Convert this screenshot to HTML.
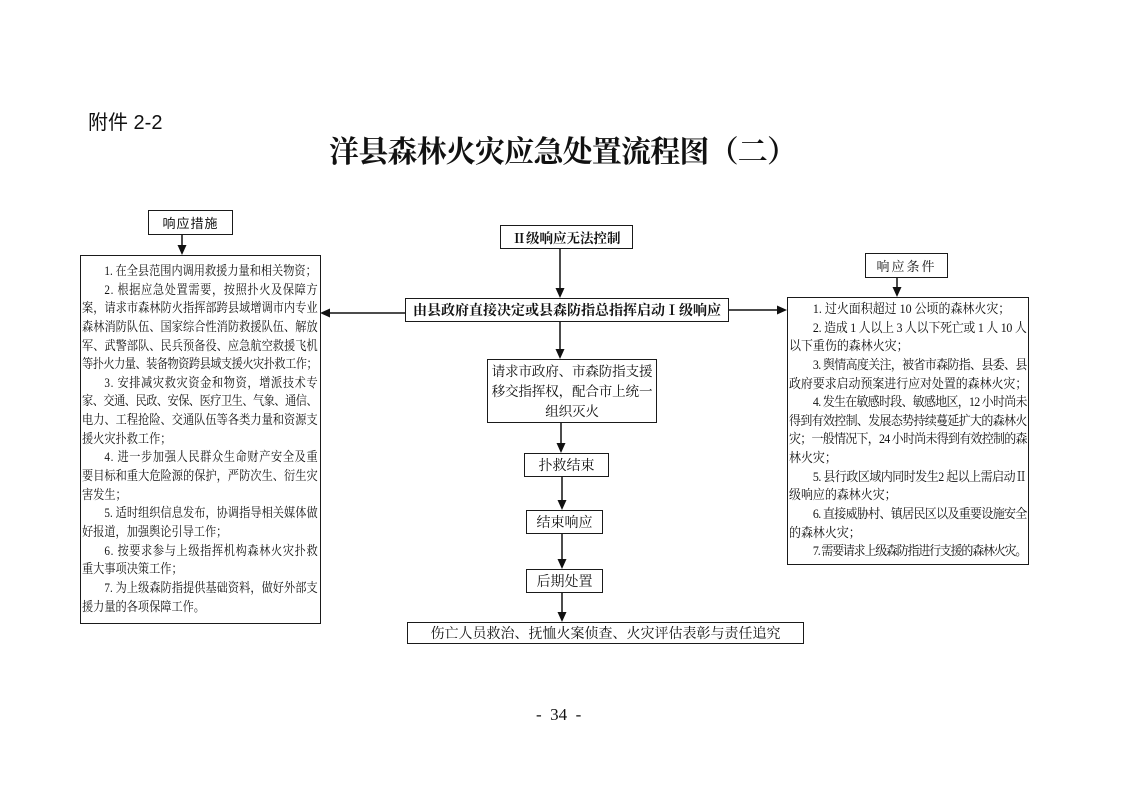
<!DOCTYPE html>
<html><head><meta charset="utf-8">
<style>
html,body{margin:0;padding:0;background:#fff;}
body{width:1122px;height:793px;position:relative;overflow:hidden;font-family:"Liberation Serif","Noto Serif CJK SC",serif;color:#111;}
.a{position:absolute;}
.box{position:absolute;box-sizing:border-box;border:1.5px solid #1a1a1a;background:#fff;}
.c{display:flex;align-items:center;justify-content:center;white-space:nowrap;}
.txt{position:absolute;transform-origin:0 0;}
.txt div{height:18.65px;line-height:18.65px;white-space:nowrap;overflow:visible;}
.txt div.i{padding-left:26px;}
.txt div span{display:inline-block;white-space:nowrap;}
</style></head><body>

<div class="a" style="left:88px;top:111px;font-family:'Liberation Sans','Noto Sans CJK SC',sans-serif;font-size:20px;line-height:24px;">附件 2-2</div>
<div class="a" style="left:329px;top:134px;font-family:'Liberation Serif','Noto Serif CJK SC',serif;font-weight:bold;font-size:30px;line-height:38px;letter-spacing:-0.8px;white-space:nowrap;">洋县森林火灾应急处置流程图（二）</div>

<svg class="a" style="left:0;top:0" width="1122" height="793">
<g stroke="#111" stroke-width="1.5" fill="none">
<line x1="182" y1="234" x2="182" y2="247"/>
<line x1="560" y1="248" x2="560" y2="290"/>
<line x1="405" y1="313" x2="328" y2="313"/>
<line x1="728" y1="310" x2="779" y2="310"/>
<line x1="560" y1="321" x2="560" y2="351"/>
<line x1="561" y1="422" x2="561" y2="445"/>
<line x1="562" y1="476" x2="562" y2="502"/>
<line x1="562" y1="533" x2="562" y2="561"/>
<line x1="562" y1="592" x2="562" y2="614"/>
<line x1="897" y1="277" x2="897" y2="289"/>
</g>
<g fill="#111">
<polygon points="177.5,245 186.5,245 182,255"/>
<polygon points="555.5,288 564.5,288 560,298"/>
<polygon points="330,308.5 330,317.5 320,313"/>
<polygon points="777,305.5 777,314.5 787,310"/>
<polygon points="555.5,349 564.5,349 560,359"/>
<polygon points="556.5,443 565.5,443 561,453"/>
<polygon points="557.5,500 566.5,500 562,510"/>
<polygon points="557.5,559 566.5,559 562,569"/>
<polygon points="557.5,612 566.5,612 562,622"/>
<polygon points="892.5,287 901.5,287 897,297"/>
</g>
</svg>

<!-- left label -->
<div class="box c" style="left:148px;top:210px;width:85px;height:25px;font-family:'Liberation Sans','Noto Sans CJK SC',sans-serif;font-size:13px;letter-spacing:1px;">响应措施</div>

<!-- left big box -->
<div class="box" style="left:80px;top:255px;width:241px;height:369px;"></div>
<div class="txt" style="left:82px;top:262px;width:274px;transform:scaleX(0.86);font-size:13px;">
<div class="i e">1. 在全县范围内调用救援力量和相关物资；</div>
<div class="i">2. 根据应急处置需要，按照扑火及保障方</div>
<div>案，请求市森林防火指挥部跨县域增调市内专业</div>
<div>森林消防队伍、国家综合性消防救援队伍、解放</div>
<div>军、武警部队、民兵预备役、应急航空救援飞机</div>
<div>等扑火力量、装备物资跨县域支援火灾扑救工作；</div>
<div class="i">3. 安排减灾救灾资金和物资，增派技术专</div>
<div>家、交通、民政、安保、医疗卫生、气象、通信、</div>
<div>电力、工程抢险、交通队伍等各类力量和资源支</div>
<div class="e">援火灾扑救工作；</div>
<div class="i">4. 进一步加强人民群众生命财产安全及重</div>
<div>要目标和重大危险源的保护，严防次生、衍生灾</div>
<div class="e">害发生；</div>
<div class="i">5. 适时组织信息发布，协调指导相关媒体做</div>
<div class="e">好报道，加强舆论引导工作；</div>
<div class="i">6. 按要求参与上级指挥机构森林火灾扑救</div>
<div class="e">重大事项决策工作；</div>
<div class="i">7. 为上级森防指提供基础资料，做好外部支</div>
<div class="e">援力量的各项保障工作。</div>
</div>

<!-- center column -->
<div class="box c" style="left:500px;top:225px;width:133px;height:24px;font-weight:bold;font-size:13.5px;">Ⅱ级响应无法控制</div>
<div class="box c" style="left:405px;top:298px;width:324px;height:24px;font-weight:bold;font-size:14px;">由县政府直接决定或县森防指总指挥启动Ⅰ级响应</div>
<div class="box" style="left:487px;top:359px;width:170px;height:64px;font-size:13.6px;line-height:20px;text-align:center;padding-top:2px;letter-spacing:-0.2px;">
<div style="white-space:nowrap;">请求市政府、市森防指支援</div>
<div style="white-space:nowrap;">移交指挥权，配合市上统一</div>
<div>组织灭火</div>
</div>
<div class="box c" style="left:524px;top:453px;width:85px;height:24px;font-size:14px;">扑救结束</div>
<div class="box c" style="left:526px;top:510px;width:77px;height:24px;font-size:14px;">结束响应</div>
<div class="box c" style="left:526px;top:569px;width:77px;height:24px;font-size:14px;">后期处置</div>
<div class="box c" style="left:407px;top:622px;width:397px;height:22px;font-size:14px;">伤亡人员救治、抚恤火案侦查、火灾评估表彰与责任追究</div>

<!-- right label -->
<div class="box c" style="left:865px;top:253px;width:83px;height:25px;font-size:13px;letter-spacing:2px;">响应条件</div>

<!-- right big box -->
<div class="box" style="left:787px;top:297px;width:242px;height:268px;"></div>
<div class="txt" style="left:789px;top:300px;width:259px;transform:scaleX(0.92);font-size:13px;">
<div class="i e">1. 过火面积超过 10 公顷的森林火灾；</div>
<div class="i">2. 造成 1 人以上 3 人以下死亡或 1 人 10 人</div>
<div class="e">以下重伤的森林火灾；</div>
<div class="i">3. 舆情高度关注，被省市森防指、县委、县</div>
<div>政府要求启动预案进行应对处置的森林火灾；</div>
<div class="i">4. 发生在敏感时段、敏感地区，12 小时尚未</div>
<div>得到有效控制、发展态势持续蔓延扩大的森林火</div>
<div>灾；一般情况下，24 小时尚未得到有效控制的森</div>
<div class="e">林火灾；</div>
<div class="i">5. 县行政区域内同时发生2 起以上需启动Ⅱ</div>
<div class="e">级响应的森林火灾；</div>
<div class="i">6. 直接威胁村、镇居民区以及重要设施安全</div>
<div class="e">的森林火灾；</div>
<div class="i">7. 需要请求上级森防指进行支援的森林火灾。</div>
</div>

<div class="a" style="left:536px;top:704px;font-size:17px;line-height:22px;white-space:pre;">-  34  -</div>

<script>
(function(){
  var lines=document.querySelectorAll('.txt div');
  for(var k=0;k<lines.length;k++){
    var d=lines[k];
    d.innerHTML='<span>'+d.innerHTML+'</span>';
    var s=d.firstChild;
    var pl=parseFloat(getComputedStyle(d).paddingLeft)||0;
    var avail=d.clientWidth-pl;
    var w=s.offsetWidth;
    var n=s.textContent.length;
    var full=!d.classList.contains('e');
    if(n>1 && (full || w>avail)){
      var ls=(avail-w)/(n-1);
      s.style.letterSpacing=ls+'px';
    }
  }
})();
</script>
</body></html>
